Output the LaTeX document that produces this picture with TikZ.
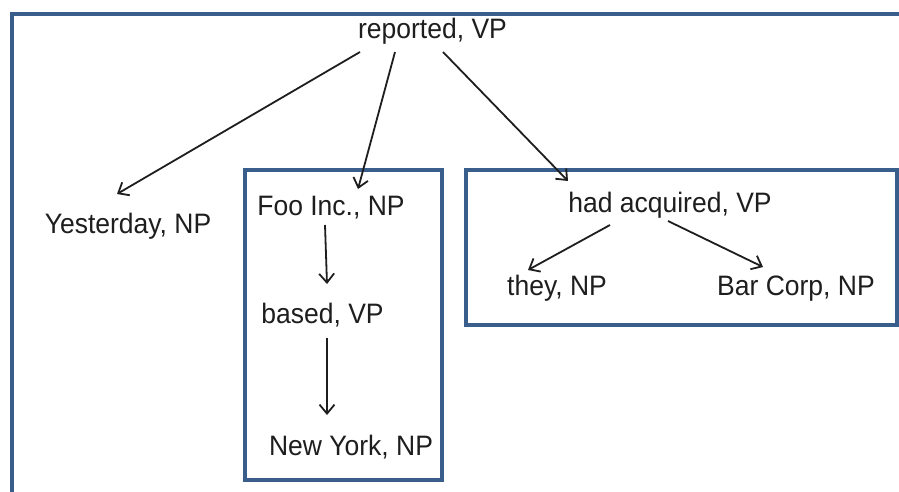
\documentclass[tikz,border=0pt]{standalone}
\usepackage{fontspec}
\setmainfont{Liberation Sans}
\usetikzlibrary{arrows.meta,calc}
\definecolor{frameblue}{RGB}{58,94,140}
\definecolor{inkgray}{RGB}{30,30,30}
\tikzset{
  lbl/.style={anchor=base,inner sep=0pt,font=\fontsize{26.5}{30}\selectfont,text=inkgray,yscale=1.06},
  framebox/.style={draw=frameblue,line width=4pt},
  conn/.style={draw=inkgray,line width=1.8pt,-{Straight Barb[length=9pt,width=15pt,line width=1.8pt]}}
}
\begin{document}
\begin{tikzpicture}[x=1pt,y=-1pt]
\useasboundingbox (0,0) rectangle (899,491);
\fill[white] (0,0) rectangle (899,491);
% frames
\draw[framebox] (12,14) rectangle (910,505);
\draw[framebox] (245,170) rectangle (442,480);
\draw[framebox] (466,170) rectangle (897,325);
% labels
\node[lbl] (rep) at (432.5,38) {reported, VP};
\node[lbl] (yest) at (128,233) {Yesterday, NP};
\node[lbl] (foo) at (331,215) {Foo Inc., NP};
\node[lbl] (based) at (322.5,323) {based, VP};
\node[lbl] (ny) at (351,455) {New York, NP};
\node[lbl] (had) at (670,212) {had acquired, VP};
\node[lbl] (they) at (557,295) {they, NP};
\node[lbl] (bar) at (796,295) {Bar Corp, NP};
% connectors
\draw[conn] ($(rep.base)+(-72.5,14)$) -- ($(yest.base)+(-11,-39)$);
\draw[conn] ($(rep.base)+(-37.5,14)$) -- ($(foo.base)+(27,-26)$);
\draw[conn] ($(rep.base)+(10.5,14)$) -- ($(had.base)+(-102,-31)$);
\draw[conn] ($(foo.base)+(-6,10)$) -- ($(based.base)+(4.5,-39)$);
\draw[conn] ($(based.base)+(4.5,15)$) -- ($(ny.base)+(-24,-40)$);
\draw[conn] ($(had.base)+(-60,13)$) -- ($(they.base)+(-29,-25)$);
\draw[conn] ($(had.base)+(-2,9)$) -- ($(bar.base)+(-33,-28)$);
\end{tikzpicture}
\end{document}
